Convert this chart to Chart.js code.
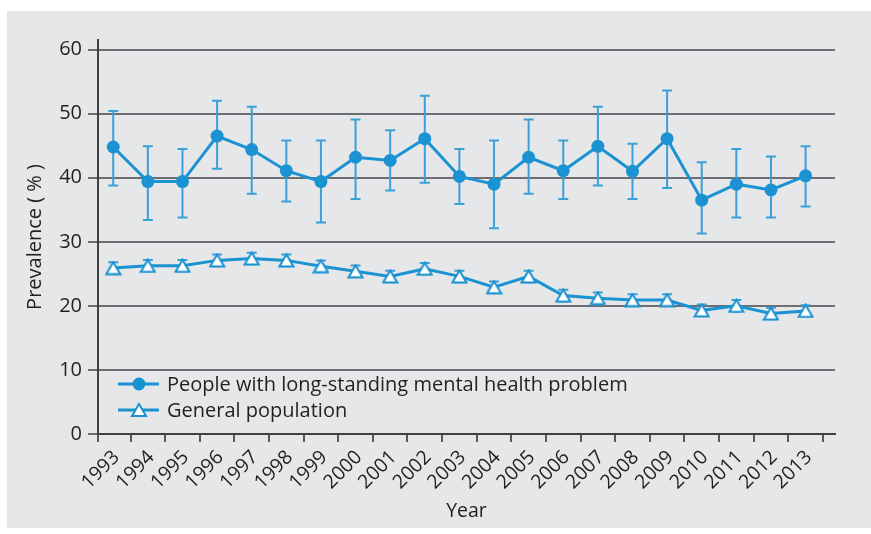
<!DOCTYPE html>
<html><head><meta charset="utf-8">
<script src="https://cdn.jsdelivr.net/npm/chart.js@4.4.1/dist/chart.umd.min.js"></script>
<style>
html,body{margin:0;padding:0;background:#fff;width:871px;height:534px;overflow:hidden;font-family:"Open Sans",sans-serif;}
#panel{position:absolute;left:7px;top:11px;right:0;bottom:6px;background:#e6e7e9;}
#wrap{position:absolute;left:0;top:0;width:871px;height:534px;}
#legend{position:absolute;left:118px;top:371px;color:#231f20;font-size:20px;line-height:26px;}
.row{display:flex;align-items:center;height:26px;white-space:nowrap;}
.row svg{margin-right:8px;flex:none;}
</style></head><body>
<div id="panel"></div>
<div id="wrap"><canvas id="c" width="871" height="534"></canvas></div>
<div id="legend"></div>
<script>
const years = ['1993','1994','1995','1996','1997','1998','1999','2000','2001','2002','2003','2004','2005','2006','2007','2008','2009','2010','2011','2012','2013'];
const seriesNames = ['People with long-standing mental health problem','General population'];
const mentalValues = [44.8, 39.4, 39.4, 46.5, 44.4, 41.1, 39.4, 43.2, 42.7, 46.1, 40.2, 39.0, 43.2, 41.1, 44.9, 41.0, 46.1, 36.5, 39.0, 38.1, 40.3];
const mentalHigh   = [50.4, 44.9, 44.5, 52.0, 51.1, 45.8, 45.8, 49.1, 47.4, 52.8, 44.5, 45.8, 49.1, 45.8, 51.1, 45.3, 53.6, 42.4, 44.5, 43.3, 44.9];
const mentalLow    = [38.8, 33.4, 33.8, 41.4, 37.5, 36.3, 33.0, 36.7, 38.0, 39.2, 35.9, 32.1, 37.5, 36.7, 38.8, 36.7, 38.4, 31.3, 33.8, 33.8, 35.5];
const generalValues = [25.9, 26.25, 26.25, 27.1, 27.4, 27.1, 26.2, 25.4, 24.6, 25.8, 24.6, 22.9, 24.6, 21.6, 21.2, 20.9, 20.9, 19.3, 20.0, 18.8, 19.2];
const generalHigh   = [26.8, 27.15, 27.15, 28.0, 28.3, 28.0, 27.1, 26.3, 25.5, 26.7, 25.5, 23.8, 25.5, 22.5, 22.1, 21.8, 21.8, 20.2, 20.9, 19.7, 20.1];
const generalLow    = [25.0, 25.35, 25.35, 26.2, 26.5, 26.2, 25.3, 24.5, 23.7, 24.9, 23.7, 22.0, 23.7, 20.7, 20.3, 20.0, 20.0, 18.4, 19.1, 17.9, 18.3];
const yTickValues = [0, 10, 20, 30, 40, 50, 60];

const BLUE = '#1b92d1';
const ERR = '#3aa0d8';
const TEXT = '#231f20';
const FONT = '"Open Sans", sans-serif';

// triangle marker (bbox-centred)
const tri = document.createElement('canvas');
tri.width = 17; tri.height = 15;
(function(){
  const g = tri.getContext('2d');
  g.beginPath(); g.moveTo(8.5, 1.5); g.lineTo(15.5, 13.5); g.lineTo(1.5, 13.5); g.closePath();
  g.fillStyle = '#fff'; g.fill(); g.lineWidth = 2; g.strokeStyle = BLUE; g.stroke();
})();

const errPlugin = {
  id: 'errbars',
  beforeDatasetsDraw(chart) {
    const ctx = chart.ctx, x = chart.scales.x, y = chart.scales.y;
    ctx.save();
    ctx.lineWidth = 2; ctx.strokeStyle = ERR;
    [[mentalLow, mentalHigh], [generalLow, generalHigh]].forEach(([lo, hi]) => {
      lo.forEach((l, i) => {
        const px = x.getPixelForValue(i);
        const a = y.getPixelForValue(l), b = y.getPixelForValue(hi[i]);
        ctx.beginPath();
        ctx.moveTo(px, a); ctx.lineTo(px, b);
        ctx.moveTo(px - 5, a); ctx.lineTo(px + 5, a);
        ctx.moveTo(px - 5, b); ctx.lineTo(px + 5, b);
        ctx.stroke();
      });
    });
    ctx.restore();
  }
};

const xTickPositions = [-0.44].concat(years.map((_, i) => i + 0.5));

new Chart(document.getElementById('c'), {
  type: 'line',
  data: {
    datasets: [
      { label: seriesNames[0], data: mentalValues.map((v, i) => ({x: i, y: v})),
        borderColor: BLUE, backgroundColor: BLUE, borderWidth: 3, pointStyle: 'circle',
        pointRadius: 6.5, pointBorderWidth: 0, pointBackgroundColor: BLUE, tension: 0 },
      { label: seriesNames[1], data: generalValues.map((v, i) => ({x: i, y: v})),
        borderColor: BLUE, backgroundColor: '#fff', borderWidth: 3, pointStyle: tri,
        pointRadius: 7, tension: 0 }
    ]
  },
  options: {
    responsive: false, animation: false,
    layout: { padding: { top: 40, right: 36, left: 0, bottom: 0 } },
    plugins: { legend: { display: false }, tooltip: { enabled: false } },
    scales: {
      x: {
        type: 'linear', min: -0.44, max: 20.85,
        afterBuildTicks: s => { s.ticks = xTickPositions.map(v => ({ value: v })); },
        afterFit: s => { s.height = 100; },
        ticks: { autoSkip: false, minRotation: 45, maxRotation: 45, labelOffset: -14, padding: 4,
          color: TEXT, font: { family: FONT, size: 19.5 },
          callback: v => v < 0 ? '' : years[Math.round(v - 0.5)] },
        grid: { drawOnChartArea: false, drawTicks: true, tickLength: 8, color: '#58595b', lineWidth: 2 },
        border: { display: true, color: '#404041', width: 2 },
        title: { display: true, text: 'Year', color: TEXT, font: { family: FONT, size: 19.5 }, padding: { top: 0, bottom: 11 } }
      },
      y: {
        min: 0, max: 61.5,
        afterBuildTicks: s => { s.ticks = yTickValues.map(v => ({ value: v })); },
        afterFit: s => { s.width = 98; },
        ticks: { color: TEXT, font: { family: FONT, size: 20 }, padding: 6 },
        grid: { color: '#6d6e71', lineWidth: 2, tickLength: 10 },
        border: { display: true, color: '#404041', width: 2 },
        title: { display: true, text: 'Prevalence ( % )', color: TEXT, font: { family: FONT, size: 20 }, padding: { top: 23, bottom: 0 } }
      }
    }
  },
  plugins: [errPlugin]
});

// HTML legend
const leg = document.getElementById('legend');
seriesNames.forEach((name, i) => {
  const row = document.createElement('div'); row.className = 'row';
  const icon = i === 0
    ? '<svg width="41" height="16"><line x1="0" y1="8" x2="41" y2="8" stroke="' + BLUE + '" stroke-width="3"/><circle cx="21" cy="8" r="6.5" fill="' + BLUE + '"/></svg>'
    : '<svg width="41" height="16"><line x1="0" y1="8" x2="41" y2="8" stroke="' + BLUE + '" stroke-width="3"/><polygon points="21,2 28,14 14,14" fill="#fff" stroke="' + BLUE + '" stroke-width="2"/></svg>';
  row.innerHTML = icon + '<span>' + name + '</span>';
  leg.appendChild(row);
});
</script>
</body></html>
